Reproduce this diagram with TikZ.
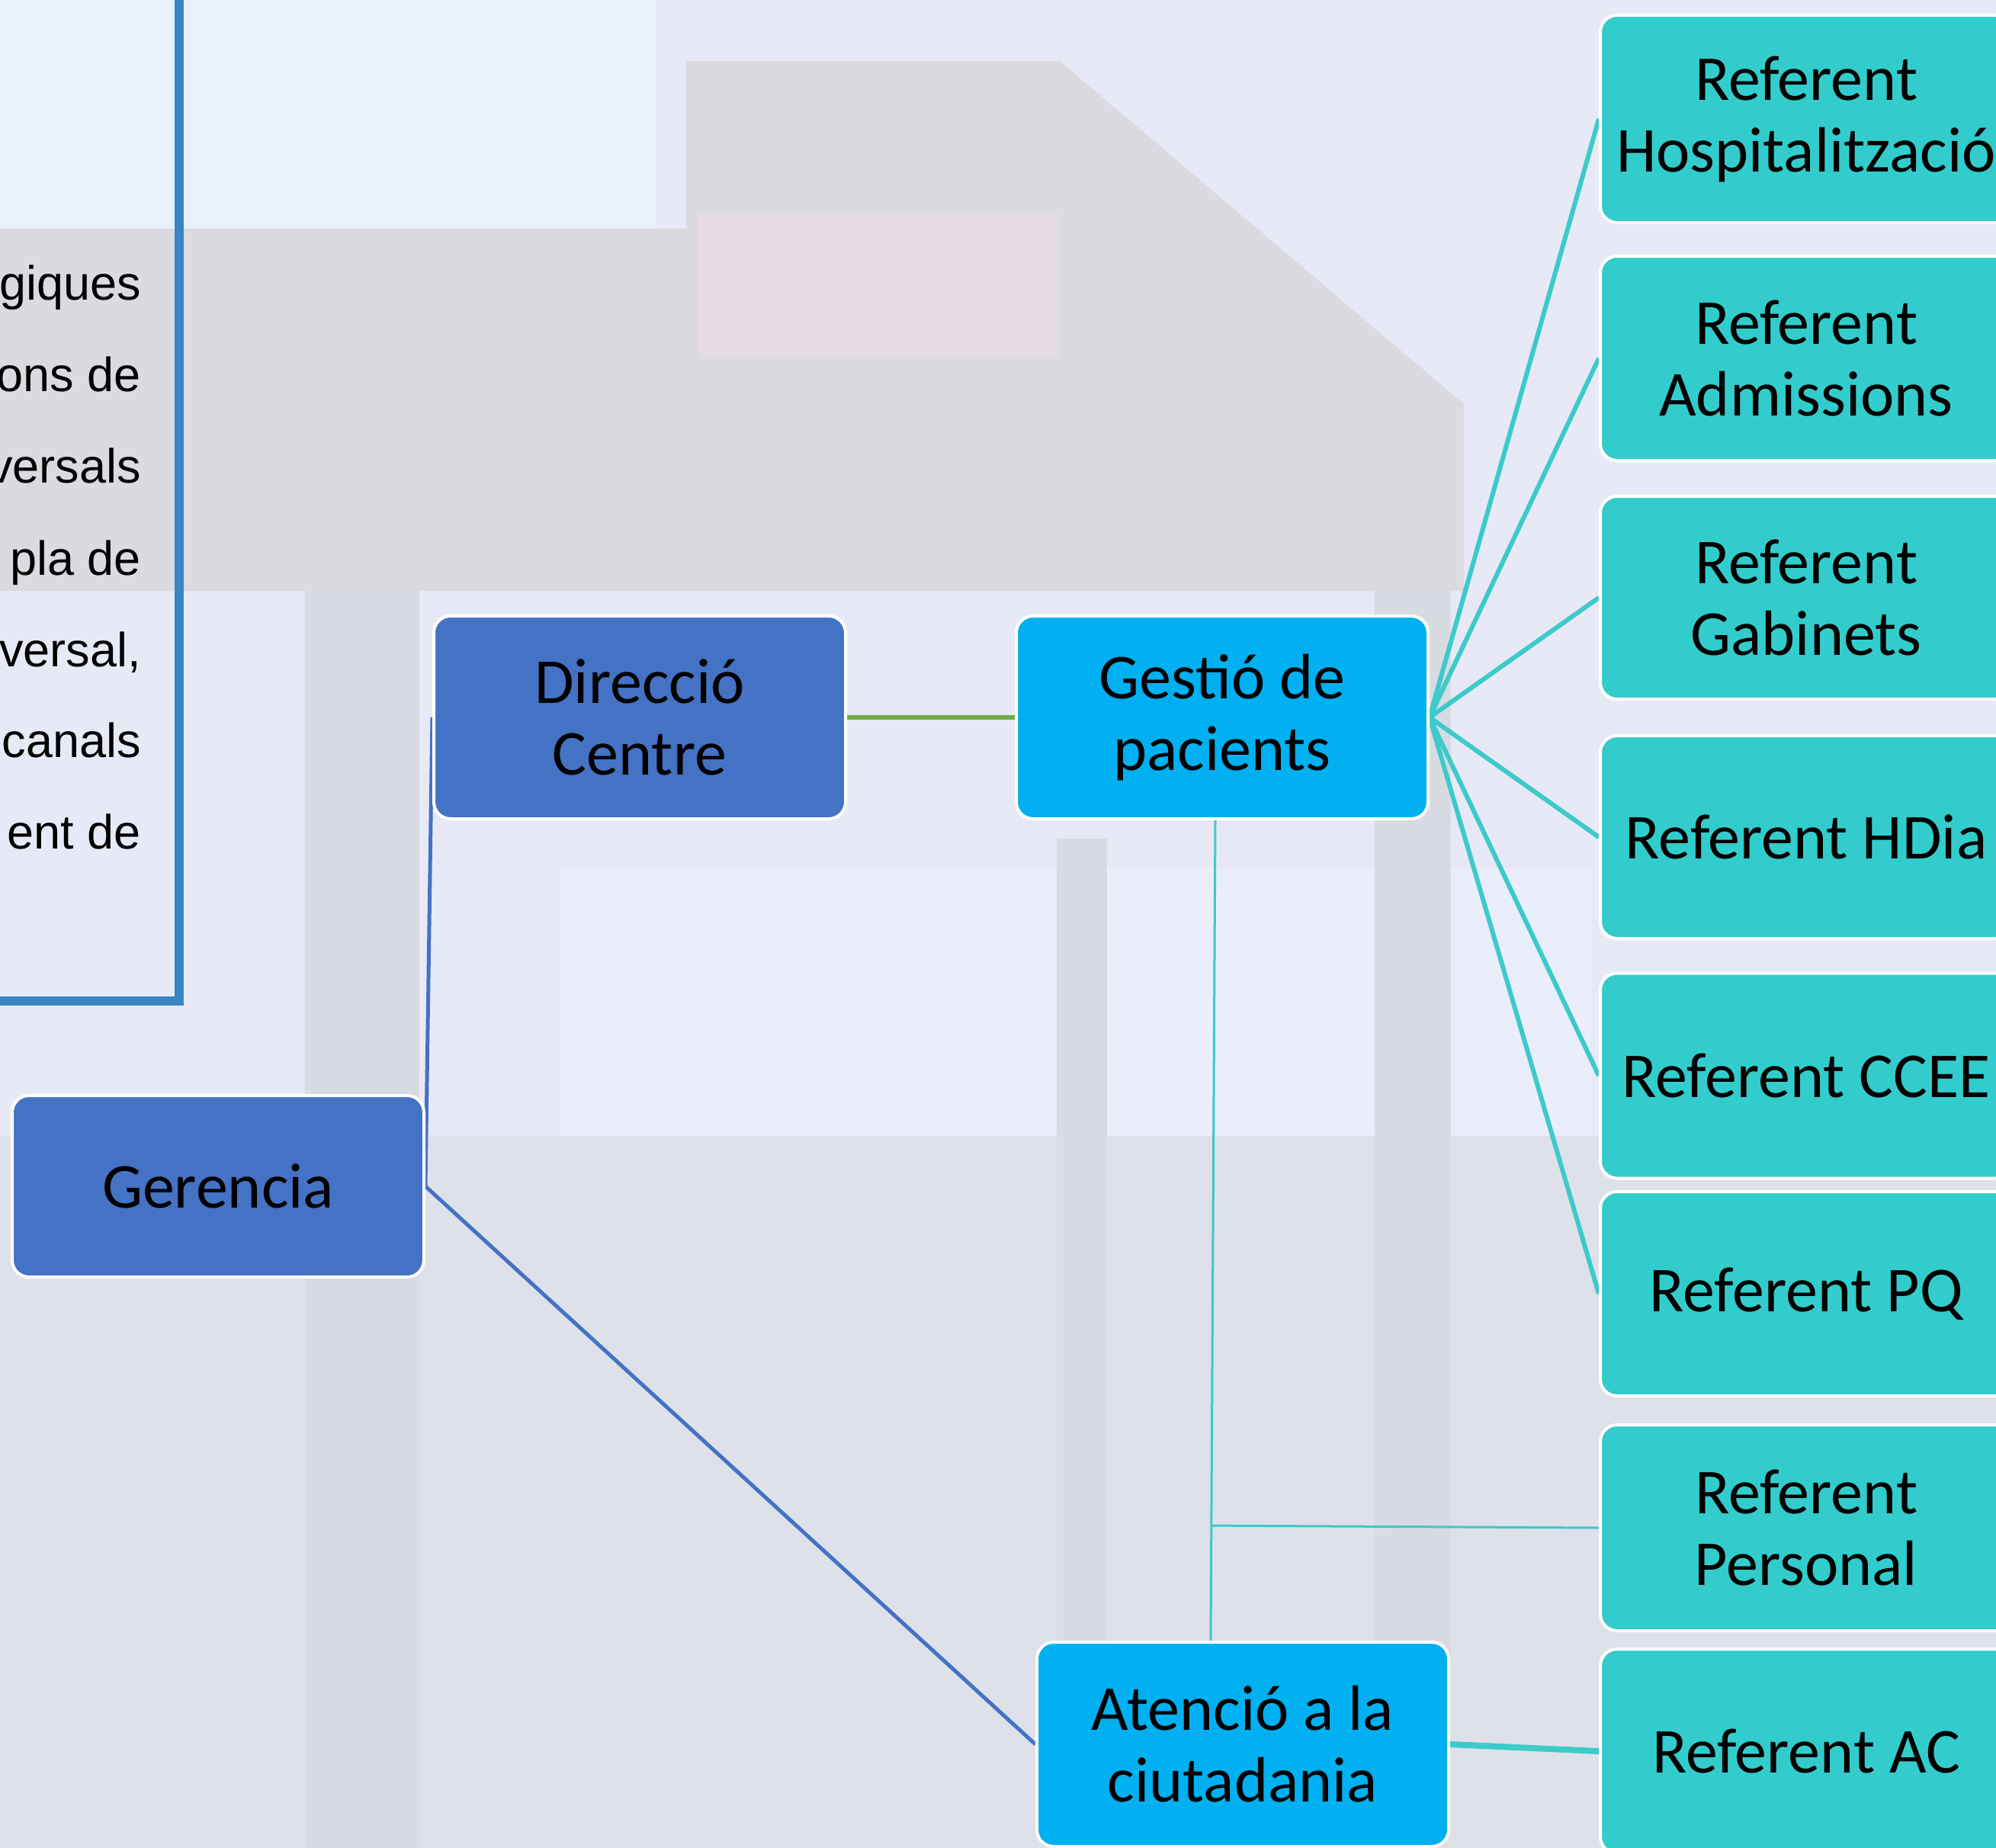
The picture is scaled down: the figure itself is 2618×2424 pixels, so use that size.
\documentclass[tikz,border=0pt]{standalone}
\usepackage{fontspec}
\setmainfont{Carlito}
\newfontfamily\arialf{Liberation Sans}
\usetikzlibrary{calc}
\pgfdeclarelayer{edges}
\pgfsetlayers{edges,main}
\definecolor{dirblue}{HTML}{4472C4}
\definecolor{gesblue}{HTML}{00B0F0}
\definecolor{refteal}{HTML}{33CCCC}
\definecolor{fanteal}{HTML}{3CCACA}
\definecolor{greenl}{HTML}{70AD47}
\definecolor{boxline}{HTML}{3A86C4}
\definecolor{bgbase}{HTML}{E7EAF6}
\definecolor{bglight}{HTML}{E9F1FB}
\definecolor{bggray}{HTML}{DADAE0}
\definecolor{bgpink}{HTML}{E4DBE4}
\definecolor{bgcol}{HTML}{D9DBE2}
\definecolor{bgwhite}{HTML}{EAEEFA}
\definecolor{bglow}{HTML}{DFE1EA}
\begin{document}
\begin{tikzpicture}[x=1pt,y=-1pt,
  box/.style={rectangle, rounded corners=22pt, draw=white, line width=4pt,
    minimum width=540pt, minimum height=266pt, align=center, text=black,
    inner sep=0pt, font=\fontsize{84}{94}\selectfont},
  dirbox/.style={box, fill=dirblue},
  gesbox/.style={box, fill=gesblue},
  refbox/.style={box, fill=refteal},
  lefttext/.style={anchor=base east, inner sep=0pt, text=black,
    font=\arialf\fontsize{63}{80}\selectfont},
  blueline/.style={draw=dirblue, line width=5pt},
  greenline/.style={draw=greenl, line width=6pt},
  fanline/.style={draw=fanteal, line width=6pt},
  thinteal/.style={draw=fanteal, line width=3pt},
  acline/.style={draw=fanteal, line width=8pt}]
\path[use as bounding box] (0,0) rectangle (2618,2424);
\clip (0,0) rectangle (2618,2424);

% nodes
\node[dirbox] (dir) at (839,941) {Direcció\\Centre};
\node[gesbox] (ges) at (1603,941) {Gestió de\\pacients};
\node[dirbox, minimum height=238pt] (ger) at (286,1556) {Gerencia};
\node[gesbox, minimum height=268pt] (ate) at (1630,2288) {Atenció a la\\ciutadania};
\node[refbox, minimum height=272pt] (hosp) at (2369,156) {Referent\\Hospitalització};
\node[refbox, minimum height=268pt] (adm) at (2369,470) {Referent\\Admissions};
\node[refbox] (gab) at (2369,784) {Referent\\Gabinets};
\node[refbox] (hdia) at (2369,1098) {Referent HDia};
\node[refbox, minimum height=269pt] (ccee) at (2369,1411) {Referent CCEE};
\node[refbox, minimum height=268pt] (pq) at (2369,1697) {Referent PQ};
\node[refbox, minimum height=270pt] (per) at (2369,2004) {Referent\\Personal};
\node[refbox, minimum height=268pt] (acr) at (2369,2297) {Referent AC};

% left text box
\draw[boxline, line width=12pt] (-20,1313) -- (235,1313) -- (235,-20);
\node[lefttext] (t1) at (185,393) {giques};
\node[lefttext] (t2) at (185,513) {ons de};
\node[lefttext] (t3) at (185,633) {versals};
\node[lefttext] (t4) at (185,754) {pla de};
\node[lefttext] (t5) at (185,874) {versal,};
\node[lefttext] (t6) at (185,993) {canals};
\node[lefttext] (t7) at (185,1113) {ent de};

\begin{pgfonlayer}{edges}
  \begin{scope}
  \clip (0,0) rectangle (2618,2424);
  % blurred background approximation
  \fill[bgbase] (0,0) rectangle (2618,2424);
  \fill[bglight] (0,0) rectangle (860,300);
  \fill[bggray] (0,300) -- (900,300) -- (900,80) -- (1390,80) -- (1920,530)
     -- (1920,775) -- (0,775) -- cycle;
  \fill[bgpink] (915,280) rectangle (1390,470);
  \fill[bglow] (0,1490) rectangle (2618,2424);
  \fill[bgwhite] (735,1140) rectangle (2087,1490);
  \fill[bgcol] (400,775) rectangle (550,2424);
  \fill[bgcol] (1386,1100) rectangle (1452,2330);
  \fill[bgcol] (1803,775) rectangle (1903,2330);
  \end{scope}
  % connectors
  \draw[blueline] (ger.east) -- (dir.west);
  \draw[blueline] (ger.east) -- (ate.west);
  \draw[greenline] (dir.east) -- (ges.west);
  \foreach \n in {hosp,adm,gab,hdia,ccee,pq}
    \draw[fanline] (ges.east) -- (\n.west);
  \coordinate (vtop) at ([xshift=-9pt]ges.south);
  \coordinate (vbot) at ([xshift=-42pt]ate.north);
  \draw[thinteal] (vtop) -- (vbot);
  \coordinate (vj) at ($(vtop)!(per.west)!(vbot)$);
  \draw[thinteal] (vj) -- (per.west);
  \draw[acline] (ate.east) -- (acr.west);
\end{pgfonlayer}
\end{tikzpicture}
\end{document}
